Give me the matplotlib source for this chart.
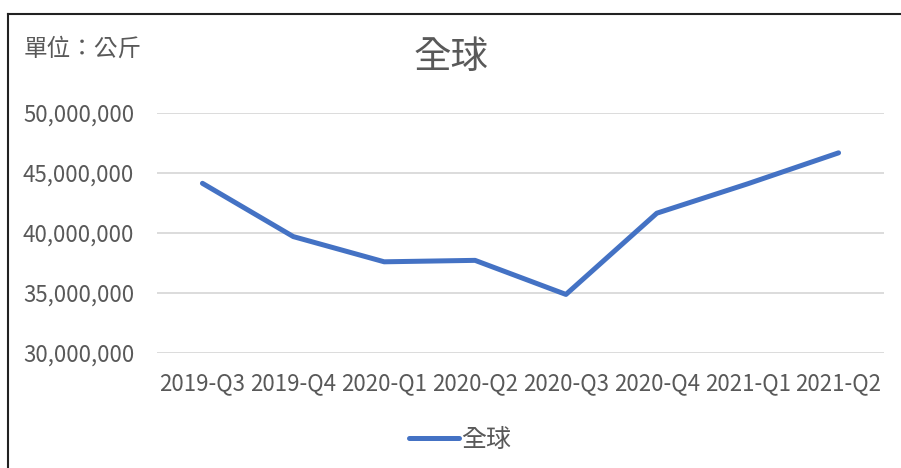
import numpy as np
from matplotlib import pyplot as plt
from matplotlib.lines import Line2D
from matplotlib.ticker import FuncFormatter

plt.rcParams['font.family'] = ['Noto Sans CJK TC', 'DejaVu Sans']

# ---- data (kg) ----
quarters = ["2019-Q3", "2019-Q4", "2020-Q1", "2020-Q2",
            "2020-Q3", "2020-Q4", "2021-Q1", "2021-Q2"]
global_kg = [44140000, 39700000, 37600000, 37720000,
             34880000, 41650000, 44100000, 46680000]
y_ticks = [30000000, 35000000, 40000000, 45000000, 50000000]

text_col = "#595959"
line_col = "#4472C4"
grid_col = "#D9D9D9"

fig = plt.figure(figsize=(9.01, 4.68), dpi=100)
ax = fig.add_axes([157/901, 1-353/468, (884-157)/901, 240/468])

x = np.arange(len(quarters))
ax.plot(x, global_kg, color=line_col, lw=3.6, solid_capstyle='round',
        solid_joinstyle='round', label="全球")

ax.set_xlim(-0.5, len(quarters) - 0.5)
ax.set_ylim(y_ticks[0], y_ticks[-1])
ax.set_yticks(y_ticks)
ax.yaxis.set_major_formatter(FuncFormatter(lambda v, p: f"{int(v):,}"))
ax.set_xticks(x)
ax.set_xticklabels(quarters)

ax.grid(axis='y', color=grid_col, lw=1.3)
ax.set_axisbelow(True)
for s in ax.spines.values():
    s.set_visible(False)
ax.tick_params(axis='both', length=0, colors=text_col, labelsize=16)
ax.tick_params(axis='y', pad=16.5)
ax.tick_params(axis='x', pad=13.5)

fig.text(451/901, 1-57/468, "全球", ha='center', va='center',
         fontsize=27, color=text_col)
fig.text(24/901, 1-49/468, "單位：公斤", ha='left', va='center',
         fontsize=17, color=text_col)

leg = fig.legend(loc='center', bbox_to_anchor=(460/901, 1-440/468),
                 frameon=False, fontsize=18, handlelength=2.0,
                 handletextpad=0.1, labelcolor=text_col)

# outer frame (top and left edges only)
fig.add_artist(Line2D([8/901, 1], [1-14/468, 1-14/468], color='#222222',
                      lw=1.5, transform=fig.transFigure))
fig.add_artist(Line2D([8/901, 8/901], [0, 1-14/468], color='#222222',
                      lw=1.5, transform=fig.transFigure))

fig.savefig("out.png", dpi=100)
